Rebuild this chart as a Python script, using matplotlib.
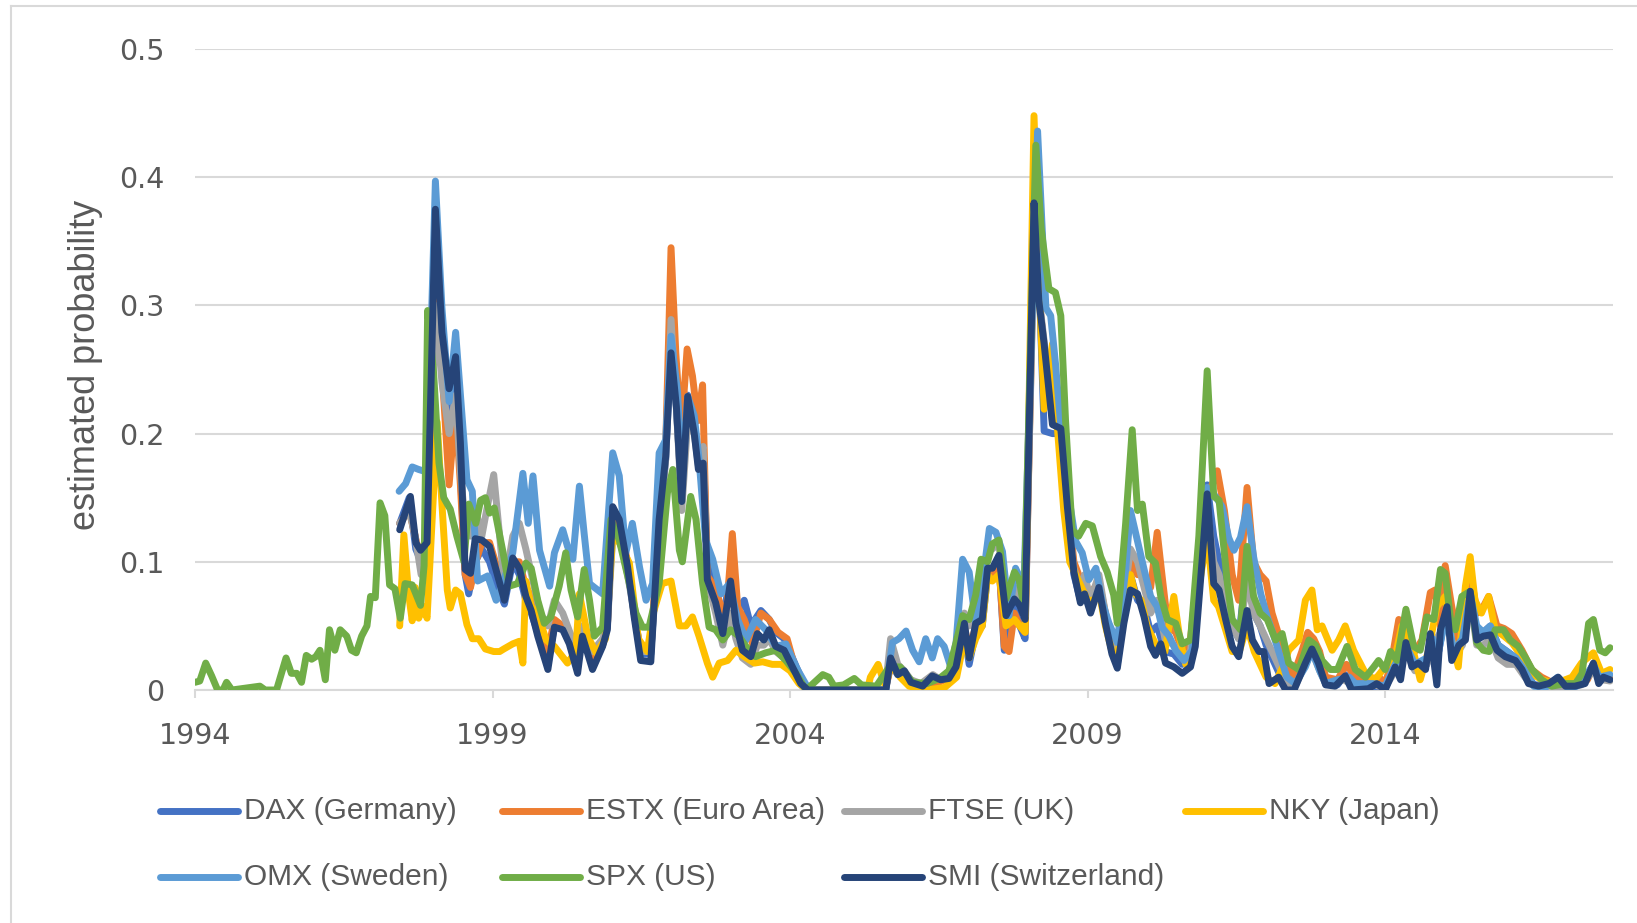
import matplotlib
matplotlib.use("Agg")
import matplotlib.pyplot as plt
from matplotlib.lines import Line2D

# (year, probability) vertices
dax = [(1997.44, .13), (1997.6, .15), (1997.71, .11), (1997.8, .10), (1997.9, .11), (1998.04, .35),
       (1998.15, .26), (1998.27, .20), (1998.38, .24), (1998.46, .17), (1998.54, .09), (1998.6, .075),
       (1998.71, .10), (1998.82, .11), (1998.95, .10), (1999.08, .08), (1999.2, .067), (1999.34, .10),
       (1999.45, .09), (1999.56, .07), (1999.65, .06), (1999.76, .045), (1999.93, .02), (2000.04, .05),
       (2000.18, .048), (2000.29, .04), (2000.43, .018), (2000.51, .045), (2000.68, .02), (2000.85, .035),
       (2000.93, .05), (2001.02, .14), (2001.13, .13), (2001.27, .095), (2001.38, .06), (2001.49, .028),
       (2001.66, .028), (2001.8, .13), (2001.91, .18), (2002.0, .27), (2002.09, .22), (2002.18, .15),
       (2002.28, .23), (2002.39, .205), (2002.46, .18), (2002.54, .19), (2002.61, .10), (2002.75, .08),
       (2002.87, .055), (2003.0, .09), (2003.09, .06), (2003.23, .07), (2003.34, .05), (2003.51, .062),
       (2003.65, .055), (2003.76, .045), (2003.9, .04), (2004.04, .025), (2004.2, .008), (2004.32, 0),
       (2005.6, 0), (2005.69, .02), (2005.81, .012), (2005.92, .013), (2006.03, .005), (2006.23, .003),
       (2006.4, .01), (2006.55, .008), (2006.67, .009), (2006.79, .015), (2006.93, .045), (2007.01, .02),
       (2007.12, .045), (2007.23, .05), (2007.32, .09), (2007.4, .09), (2007.51, .10), (2007.6, .031),
       (2007.7, .05), (2007.77, .065), (2007.86, .05), (2007.95, .04), (2008.12, .42), (2008.2, .30),
       (2008.27, .202), (2008.41, .20), (2008.55, .20), (2008.66, .14), (2008.77, .09), (2008.88, .07),
       (2008.95, .075), (2009.05, .065), (2009.19, .08), (2009.3, .055), (2009.41, .03), (2009.5, .02),
       (2009.61, .06), (2009.72, .09), (2009.84, .07), (2009.95, .065), (2010.06, .045), (2010.17, .05),
       (2010.3, .03), (2010.45, .028), (2010.59, .02), (2010.73, .025), (2010.87, .09), (2011.01, .16),
       (2011.12, .12), (2011.21, .10), (2011.32, .07), (2011.43, .05), (2011.54, .04), (2011.68, .10),
       (2011.79, .06), (2011.9, .05), (2012.0, .035), (2012.15, .02), (2012.3, .005), (2012.47, .003),
       (2012.66, .025), (2012.77, .035), (2012.9, .02), (2013.0, .005), (2013.2, .004), (2013.33, .012),
       (2013.5, .002), (2013.8, .003), (2014.0, .001), (2014.17, .02), (2014.35, .035), (2014.5, .02),
       (2014.7, .02), (2014.8, .04), (2014.9, .03), (2015.04, .065), (2015.15, .03), (2015.3, .04),
       (2015.43, .075), (2015.54, .045), (2015.65, .045), (2015.77, .05), (2015.9, .035), (2016.05, .03),
       (2016.2, .025), (2016.35, .015), (2016.5, .004), (2016.75, .004), (2016.95, .008), (2017.1, .002),
       (2017.3, .005), (2017.5, .02), (2017.62, .008), (2017.78, .01)]

estx = [(1997.44, .13), (1997.6, .14), (1997.75, .11), (1997.9, .11), (1998.04, .33), (1998.15, .25),
        (1998.27, .16), (1998.38, .22), (1998.46, .16), (1998.54, .09), (1998.63, .08), (1998.72, .10),
        (1998.82, .115), (1998.95, .115), (1999.08, .095), (1999.2, .08), (1999.34, .10), (1999.45, .10),
        (1999.56, .08), (1999.7, .07), (1999.8, .05), (1999.93, .03), (2000.04, .055), (2000.18, .05),
        (2000.3, .04), (2000.43, .02), (2000.51, .045), (2000.68, .025), (2000.85, .035), (2000.93, .05),
        (2001.02, .135), (2001.13, .13), (2001.27, .10), (2001.38, .06), (2001.49, .03), (2001.66, .03),
        (2001.8, .14), (2001.91, .19), (2002.0, .345), (2002.08, .263), (2002.17, .20), (2002.27, .266),
        (2002.36, .245), (2002.45, .21), (2002.53, .238), (2002.61, .089), (2002.73, .081), (2002.84, .065),
        (2002.93, .06), (2003.03, .122), (2003.12, .065), (2003.23, .055), (2003.37, .036), (2003.51, .06),
        (2003.65, .055), (2003.8, .045), (2003.95, .04), (2004.1, .015), (2004.3, 0), (2005.6, 0),
        (2005.7, .02), (2005.85, .012), (2006.0, .006), (2006.3, .004), (2006.5, .006), (2006.7, .01),
        (2006.8, .02), (2006.93, .05), (2007.01, .03), (2007.12, .05), (2007.23, .06), (2007.32, .09),
        (2007.4, .09), (2007.51, .10), (2007.6, .034), (2007.68, .03), (2007.77, .06), (2007.86, .05),
        (2007.95, .045), (2008.12, .40), (2008.2, .30), (2008.3, .25), (2008.45, .22), (2008.55, .20),
        (2008.66, .15), (2008.77, .10), (2008.85, .09), (2008.95, .08), (2009.05, .075), (2009.19, .085),
        (2009.3, .06), (2009.41, .035), (2009.5, .03), (2009.61, .07), (2009.72, .10), (2009.84, .09),
        (2009.95, .09), (2010.06, .08), (2010.17, .123), (2010.25, .09), (2010.35, .05), (2010.48, .045),
        (2010.6, .03), (2010.73, .04), (2010.87, .10), (2011.01, .15), (2011.18, .171), (2011.3, .14),
        (2011.43, .09), (2011.54, .07), (2011.68, .158), (2011.79, .10), (2011.9, .09), (2012.0, .085),
        (2012.1, .06), (2012.2, .045), (2012.3, .025), (2012.45, .01), (2012.6, .03), (2012.7, .045),
        (2012.8, .04), (2012.9, .03), (2013.0, .01), (2013.2, .008), (2013.35, .02), (2013.5, .01),
        (2013.7, .008), (2013.9, .01), (2014.0, .005), (2014.1, .02), (2014.23, .055), (2014.35, .035),
        (2014.5, .03), (2014.62, .039), (2014.76, .076), (2014.84, .078), (2014.93, .05), (2015.01, .097),
        (2015.12, .065), (2015.23, .04), (2015.35, .065), (2015.43, .091), (2015.55, .06), (2015.65, .065),
        (2015.74, .073), (2015.88, .05), (2016.0, .048), (2016.13, .044), (2016.3, .031), (2016.46, .016),
        (2016.63, .01), (2016.8, .006), (2017.0, .004), (2017.2, .006), (2017.4, .008), (2017.5, .018),
        (2017.64, .013), (2017.78, .01)]

ftse = [(1997.44, .13), (1997.6, .14), (1997.7, .12), (1997.8, .09), (1997.9, .10), (1998.04, .30),
        (1998.15, .24), (1998.27, .20), (1998.38, .23), (1998.46, .17), (1998.54, .13), (1998.63, .12),
        (1998.72, .14), (1998.82, .12), (1998.9, .14), (1999.02, .168), (1999.12, .12), (1999.2, .08),
        (1999.34, .12), (1999.45, .13), (1999.56, .11), (1999.68, .085), (1999.8, .06), (1999.93, .05),
        (2000.04, .07), (2000.18, .06), (2000.3, .045), (2000.43, .03), (2000.51, .05), (2000.68, .03),
        (2000.85, .04), (2000.93, .05), (2001.02, .12), (2001.13, .12), (2001.27, .09), (2001.38, .06),
        (2001.49, .03), (2001.66, .03), (2001.8, .12), (2001.91, .18), (2002.0, .289), (2002.09, .22),
        (2002.18, .14), (2002.28, .21), (2002.39, .20), (2002.46, .175), (2002.54, .19), (2002.61, .085),
        (2002.75, .06), (2002.87, .035), (2003.0, .06), (2003.09, .04), (2003.2, .025), (2003.34, .02),
        (2003.45, .035), (2003.56, .035), (2003.65, .04), (2003.76, .03), (2003.9, .025), (2004.04, .015),
        (2004.2, .003), (2004.3, 0), (2005.6, 0), (2005.69, .04), (2005.81, .02), (2005.92, .015),
        (2006.03, .008), (2006.2, .005), (2006.4, .012), (2006.53, .008), (2006.67, .01), (2006.79, .02),
        (2006.93, .06), (2007.01, .05), (2007.12, .055), (2007.23, .07), (2007.32, .11), (2007.4, .11),
        (2007.51, .115), (2007.63, .06), (2007.77, .08), (2007.86, .07), (2007.95, .06), (2008.12, .38),
        (2008.2, .30), (2008.3, .26), (2008.41, .21), (2008.55, .20), (2008.66, .14), (2008.77, .095),
        (2008.88, .08), (2008.95, .09), (2009.05, .07), (2009.19, .09), (2009.3, .06), (2009.41, .035),
        (2009.5, .03), (2009.61, .07), (2009.72, .11), (2009.84, .10), (2009.95, .08), (2010.06, .06),
        (2010.17, .07), (2010.3, .04), (2010.45, .035), (2010.6, .025), (2010.73, .03), (2010.87, .09),
        (2011.01, .14), (2011.12, .10), (2011.21, .09), (2011.32, .065), (2011.43, .05), (2011.54, .04),
        (2011.68, .085), (2011.79, .06), (2011.9, .05), (2012.0, .04), (2012.2, .02), (2012.35, .005),
        (2012.5, .004), (2012.66, .02), (2012.77, .03), (2012.9, .015), (2013.0, .005), (2013.3, .008),
        (2013.5, .003), (2013.8, .004), (2014.0, .002), (2014.17, .015), (2014.35, .03), (2014.5, .015),
        (2014.7, .02), (2014.8, .035), (2014.93, .045), (2015.04, .06), (2015.15, .025), (2015.3, .035),
        (2015.43, .07), (2015.54, .035), (2015.65, .035), (2015.77, .04), (2015.9, .025), (2016.05, .02),
        (2016.2, .02), (2016.35, .01), (2016.5, .003), (2016.75, .003), (2017.0, .002), (2017.3, .004),
        (2017.5, .015), (2017.65, .008), (2017.78, .007)]

nky = [(1997.44, .05), (1997.51, .121), (1997.59, .075), (1997.65, .054), (1997.7, .08), (1997.76, .056),
       (1997.83, .065), (1997.9, .056), (1998.07, .209), (1998.15, .145), (1998.24, .078), (1998.29, .064),
       (1998.38, .078), (1998.46, .075), (1998.57, .051), (1998.66, .04), (1998.77, .04), (1998.88, .032),
       (1999.02, .03), (1999.12, .03), (1999.19, .032), (1999.34, .036), (1999.45, .038), (1999.51, .021),
       (1999.56, .085), (1999.65, .065), (1999.76, .06), (1999.9, .039), (2000.04, .034), (2000.26, .021),
       (2000.4, .03), (2000.46, .075), (2000.6, .042), (2000.74, .029), (2000.9, .04), (2001.02, .12),
       (2001.13, .115), (2001.3, .099), (2001.45, .04), (2001.6, .03), (2001.7, .06), (2001.85, .083),
       (2002.0, .085), (2002.14, .05), (2002.25, .05), (2002.36, .057), (2002.47, .042), (2002.61, .021),
       (2002.7, .01), (2002.81, .021), (2002.95, .023), (2003.09, .031), (2003.23, .026), (2003.4, .021),
       (2003.54, .022), (2003.7, .02), (2003.85, .02), (2004.0, .015), (2004.15, .005), (2004.3, 0),
       (2005.3, 0), (2005.35, .01), (2005.48, .02), (2005.6, .003), (2005.7, .02), (2005.85, .01),
       (2006.0, .003), (2006.3, 0), (2006.6, .002), (2006.8, .01), (2006.93, .04), (2007.01, .025),
       (2007.12, .04), (2007.23, .05), (2007.32, .09), (2007.4, .085), (2007.51, .09), (2007.63, .05),
       (2007.77, .055), (2007.86, .05), (2007.95, .045), (2008.10, .448), (2008.2, .30), (2008.27, .219),
       (2008.41, .27), (2008.5, .20), (2008.6, .14), (2008.7, .10), (2008.8, .09), (2008.9, .08),
       (2009.0, .07), (2009.1, .07), (2009.2, .075), (2009.3, .05), (2009.41, .03), (2009.5, .025),
       (2009.61, .06), (2009.72, .09), (2009.8, .075), (2009.9, .07), (2010.0, .05), (2010.1, .04),
       (2010.2, .03), (2010.3, .03), (2010.45, .073), (2010.55, .04), (2010.65, .02), (2010.75, .025),
       (2010.87, .08), (2011.01, .12), (2011.12, .07), (2011.2, .065), (2011.3, .05), (2011.43, .03),
       (2011.55, .03), (2011.68, .05), (2011.8, .03), (2011.9, .02), (2012.0, .01), (2012.15, .005),
       (2012.3, .02), (2012.38, .031), (2012.55, .039), (2012.66, .07), (2012.77, .078), (2012.86, .047),
       (2012.94, .05), (2013.11, .031), (2013.22, .039), (2013.33, .05), (2013.47, .031), (2013.67, .013),
       (2013.83, .008), (2014.0, .018), (2014.17, .026), (2014.28, .05), (2014.45, .035), (2014.59, .008),
       (2014.73, .031), (2014.87, .065), (2015.01, .073), (2015.12, .039), (2015.23, .018), (2015.35, .081),
       (2015.43, .104), (2015.51, .07), (2015.62, .06), (2015.74, .073), (2015.85, .047), (2016.0, .042),
       (2016.13, .037), (2016.3, .026), (2016.46, .013), (2016.63, .008), (2016.86, .005), (2017.14, .01),
       (2017.3, .021), (2017.5, .029), (2017.64, .013), (2017.78, .016)]

omx = [(1997.43, .155), (1997.54, .161), (1997.65, .174), (1997.76, .172), (1997.9, .17), (1998.04, .397),
       (1998.15, .298), (1998.27, .225), (1998.38, .279), (1998.49, .212), (1998.57, .164), (1998.66, .155),
       (1998.75, .085), (1998.92, .089), (1999.06, .07), (1999.17, .083), (1999.34, .107), (1999.51, .169),
       (1999.6, .13), (1999.68, .167), (1999.79, .109), (1999.96, .081), (2000.04, .107), (2000.18, .125),
       (2000.26, .112), (2000.35, .102), (2000.46, .159), (2000.54, .122), (2000.63, .083), (2000.85, .075),
       (2001.02, .185), (2001.13, .167), (2001.24, .107), (2001.35, .13), (2001.47, .096), (2001.58, .07),
       (2001.69, .083), (2001.8, .185), (2001.91, .195), (2002.0, .276), (2002.11, .232), (2002.19, .161),
       (2002.28, .229), (2002.39, .214), (2002.47, .18), (2002.58, .117), (2002.7, .102), (2002.84, .075),
       (2002.98, .083), (2003.12, .055), (2003.26, .039), (2003.42, .055), (2003.59, .047), (2003.76, .034),
       (2003.93, .036), (2004.1, .018), (2004.32, 0), (2005.61, 0), (2005.72, .037), (2005.83, .04),
       (2005.95, .046), (2006.06, .031), (2006.17, .022), (2006.28, .04), (2006.39, .025), (2006.48, .04),
       (2006.59, .034), (2006.7, .018), (2006.79, .037), (2006.9, .102), (2007.01, .092), (2007.12, .052),
       (2007.23, .083), (2007.35, .126), (2007.46, .123), (2007.57, .108), (2007.68, .058), (2007.79, .095),
       (2007.93, .08), (2008.16, .436), (2008.3, .298), (2008.38, .292), (2008.46, .255), (2008.57, .195),
       (2008.69, .149), (2008.8, .116), (2008.91, .107), (2009.02, .086), (2009.14, .095), (2009.25, .068),
       (2009.36, .052), (2009.5, .037), (2009.64, .094), (2009.72, .14), (2009.86, .112), (2009.95, .094),
       (2010.06, .073), (2010.17, .065), (2010.25, .049), (2010.37, .042), (2010.48, .031), (2010.62, .023),
       (2010.76, .031), (2010.87, .099), (2011.01, .158), (2011.15, .151), (2011.26, .143), (2011.37, .119),
       (2011.46, .109), (2011.57, .119), (2011.68, .143), (2011.79, .104), (2011.91, .075), (2012.02, .057),
       (2012.13, .042), (2012.24, .026), (2012.35, .01), (2012.49, .005), (2012.66, .018), (2012.77, .031),
       (2012.9, .015), (2013.0, .005), (2013.2, .008), (2013.4, .01), (2013.5, .005), (2013.8, .005),
       (2014.0, .003), (2014.17, .02), (2014.35, .035), (2014.5, .02), (2014.7, .025), (2014.8, .04),
       (2014.9, .03), (2015.04, .062), (2015.15, .03), (2015.3, .04), (2015.43, .075), (2015.54, .05),
       (2015.65, .045), (2015.77, .05), (2015.9, .035), (2016.05, .03), (2016.2, .025), (2016.35, .015),
       (2016.5, .003), (2016.7, .002), (2016.9, .01), (2017.1, 0), (2017.3, .005), (2017.5, .02),
       (2017.6, .01), (2017.78, .012)]

spx = [(1994.0, .006), (1994.08, .007), (1994.18, .021), (1994.28, .011), (1994.38, 0), (1994.47, 0),
       (1994.53, .006), (1994.62, 0), (1995.09, .003), (1995.18, 0), (1995.37, 0), (1995.53, .025),
       (1995.62, .013), (1995.71, .013), (1995.79, .006), (1995.87, .027), (1995.96, .024), (1996.03, .026),
       (1996.1, .031), (1996.19, .008), (1996.26, .047), (1996.35, .031), (1996.44, .047), (1996.55, .042),
       (1996.63, .031), (1996.71, .029), (1996.8, .042), (1996.89, .05), (1996.95, .073), (1997.03, .072),
       (1997.11, .146), (1997.19, .136), (1997.27, .082), (1997.36, .079), (1997.45, .056), (1997.53, .083),
       (1997.65, .082), (1997.79, .066), (1997.85, .097), (1997.91, .296), (1998.01, .247), (1998.1, .177),
       (1998.18, .15), (1998.29, .141), (1998.4, .12), (1998.52, .10), (1998.6, .145), (1998.72, .13),
       (1998.8, .148), (1998.88, .15), (1998.95, .138), (1999.03, .142), (1999.17, .109), (1999.28, .081),
       (1999.42, .083), (1999.56, .099), (1999.65, .095), (1999.76, .07), (1999.87, .052), (1999.98, .057),
       (2000.12, .081), (2000.23, .107), (2000.32, .078), (2000.43, .057), (2000.54, .094), (2000.63, .07),
       (2000.71, .042), (2000.85, .049), (2000.99, .133), (2001.13, .117), (2001.27, .089), (2001.41, .06),
       (2001.52, .049), (2001.63, .049), (2001.8, .083), (2001.94, .154), (2002.03, .172), (2002.14, .109),
       (2002.19, .10), (2002.33, .151), (2002.42, .133), (2002.53, .083), (2002.64, .049), (2002.75, .047),
       (2002.87, .039), (2003.0, .047), (2003.14, .042), (2003.26, .034), (2003.42, .026), (2003.59, .029),
       (2003.76, .031), (2003.93, .023), (2004.1, .013), (2004.27, 0), (2004.55, .012), (2004.65, .01),
       (2004.74, .003), (2004.9, .004), (2005.08, .009), (2005.2, .004), (2005.45, .003), (2005.67, .018),
       (2005.85, .018), (2006.06, .006), (2006.3, .005), (2006.51, .009), (2006.67, .015), (2006.79, .037),
       (2006.9, .058), (2007.01, .055), (2007.12, .074), (2007.21, .102), (2007.32, .10), (2007.4, .114),
       (2007.51, .117), (2007.63, .071), (2007.77, .092), (2007.85, .086), (2007.93, .065), (2008.13, .425),
       (2008.22, .36), (2008.35, .313), (2008.46, .31), (2008.55, .292), (2008.63, .21), (2008.74, .125),
       (2008.85, .12), (2008.97, .13), (2009.08, .128), (2009.22, .104), (2009.33, .092), (2009.44, .074),
       (2009.5, .052), (2009.64, .13), (2009.75, .203), (2009.84, .14), (2009.92, .145), (2010.03, .104),
       (2010.14, .099), (2010.23, .073), (2010.34, .055), (2010.48, .052), (2010.59, .036), (2010.73, .039),
       (2010.87, .12), (2011.01, .249), (2011.12, .151), (2011.21, .148), (2011.35, .083), (2011.43, .055),
       (2011.57, .047), (2011.68, .112), (2011.79, .073), (2011.9, .06), (2012.02, .055), (2012.16, .039),
       (2012.27, .044), (2012.38, .021), (2012.55, .016), (2012.72, .039), (2012.83, .035), (2012.94, .023),
       (2013.08, .016), (2013.2, .016), (2013.36, .034), (2013.5, .016), (2013.67, .01), (2013.81, .018),
       (2013.89, .023), (2014.0, .016), (2014.09, .03), (2014.2, .023), (2014.35, .063), (2014.48, .034),
       (2014.59, .031), (2014.7, .057), (2014.82, .055), (2014.93, .094), (2015.01, .091), (2015.1, .055),
       (2015.18, .047), (2015.29, .073), (2015.43, .077), (2015.54, .037), (2015.65, .031), (2015.75, .03),
       (2015.85, .047), (2015.99, .047), (2016.1, .039), (2016.24, .034), (2016.35, .026), (2016.47, .016),
       (2016.63, .008), (2016.8, .003), (2017.03, .005), (2017.2, .005), (2017.31, .013), (2017.42, .052),
       (2017.5, .055), (2017.61, .031), (2017.7, .029), (2017.78, .033)]

smi = [(1997.44, .125), (1997.62, .151), (1997.71, .115), (1997.79, .109), (1997.9, .115), (1998.04, .375),
       (1998.15, .279), (1998.27, .235), (1998.38, .26), (1998.46, .193), (1998.54, .094), (1998.63, .091),
       (1998.71, .118), (1998.82, .117), (1998.95, .112), (1999.08, .09), (1999.2, .07), (1999.34, .103),
       (1999.45, .095), (1999.56, .073), (1999.65, .062), (1999.76, .042), (1999.93, .016), (2000.04, .049),
       (2000.18, .047), (2000.29, .036), (2000.43, .013), (2000.51, .042), (2000.68, .016), (2000.85, .034),
       (2000.93, .047), (2001.02, .143), (2001.13, .133), (2001.27, .096), (2001.38, .057), (2001.49, .023),
       (2001.66, .022), (2001.8, .133), (2001.91, .182), (2002.0, .263), (2002.09, .221), (2002.18, .147),
       (2002.28, .229), (2002.39, .20), (2002.46, .172), (2002.54, .177), (2002.61, .086), (2002.75, .068),
       (2002.87, .044), (2003.0, .085), (2003.09, .052), (2003.2, .031), (2003.34, .026), (2003.45, .044),
       (2003.56, .039), (2003.65, .047), (2003.76, .034), (2003.9, .031), (2004.04, .018), (2004.18, .005),
       (2004.3, 0), (2005.61, 0), (2005.69, .025), (2005.81, .012), (2005.92, .015), (2006.03, .006),
       (2006.23, .003), (2006.39, .011), (2006.53, .008), (2006.67, .009), (2006.79, .018), (2006.93, .052),
       (2007.01, .025), (2007.12, .052), (2007.23, .055), (2007.32, .095), (2007.4, .095), (2007.51, .105),
       (2007.63, .058), (2007.77, .071), (2007.86, .066), (2007.95, .055), (2008.1, .38), (2008.18, .304),
       (2008.27, .27), (2008.41, .207), (2008.55, .204), (2008.66, .143), (2008.77, .092), (2008.88, .068),
       (2008.95, .075), (2009.05, .06), (2009.19, .08), (2009.3, .052), (2009.41, .028), (2009.5, .017),
       (2009.61, .052), (2009.72, .078), (2009.84, .075), (2009.95, .057), (2010.06, .034), (2010.14, .027),
       (2010.23, .036), (2010.31, .021), (2010.45, .018), (2010.59, .013), (2010.73, .018), (2010.81, .034),
       (2010.93, .104), (2011.01, .153), (2011.12, .083), (2011.21, .078), (2011.32, .055), (2011.43, .034),
       (2011.54, .026), (2011.68, .062), (2011.77, .039), (2011.88, .03), (2011.96, .03), (2012.05, .005),
       (2012.21, .01), (2012.33, 0), (2012.47, 0), (2012.66, .021), (2012.77, .032), (2012.88, .021),
       (2013.0, .004), (2013.16, .003), (2013.33, .011), (2013.44, 0), (2013.72, .001), (2013.86, .005),
       (2014.0, 0), (2014.17, .018), (2014.26, .008), (2014.35, .037), (2014.45, .018), (2014.56, .021),
       (2014.68, .016), (2014.76, .044), (2014.87, .004), (2014.93, .047), (2015.04, .065), (2015.12, .023),
       (2015.24, .035), (2015.35, .039), (2015.43, .077), (2015.54, .039), (2015.65, .042), (2015.77, .043),
       (2015.88, .031), (2016.02, .026), (2016.19, .023), (2016.3, .016), (2016.41, .005), (2016.58, .003),
       (2016.75, .005), (2016.91, .01), (2017.03, .003), (2017.19, .003), (2017.36, .005), (2017.5, .021),
       (2017.59, .005), (2017.67, .01), (2017.78, .008)]

series = [
    ("DAX (Germany)", dax, "#4472C4"),
    ("ESTX (Euro Area)", estx, "#ED7D31"),
    ("FTSE (UK)", ftse, "#A5A5A5"),
    ("NKY (Japan)", nky, "#FFC000"),
    ("OMX (Sweden)", omx, "#5B9BD5"),
    ("SPX (US)", spx, "#70AD47"),
    ("SMI (Switzerland)", smi, "#264478"),
]

W, H = 1637, 923
TXT = "#595959"
GRID = "#D9D9D9"
narrow = ["Liberation Sans", "DejaVu Sans"]

fig = plt.figure(figsize=(W / 100, H / 100), dpi=100)
fig.patch.set_facecolor("white")

# chart area border (left and top visible)
fig.add_artist(Line2D([11 / W, 11 / W], [0, 1 - 6 / H], color=GRID, lw=1.5))
fig.add_artist(Line2D([11 / W, 1], [1 - 6 / H, 1 - 6 / H], color=GRID, lw=1.5))

ax = fig.add_axes([195 / W, 1 - 690 / H, (1613 - 195) / W, (690 - 49) / H])

for i, (name, pts, col) in enumerate(series):
    xs = [p[0] for p in pts]
    ys = [p[1] for p in pts]
    ax.plot(xs, ys, color=col, lw=5, solid_joinstyle="round",
            solid_capstyle="round", zorder=3 + i)

ax.set_xlim(1994, 2017.83)
ax.set_ylim(0, 0.5)
ax.set_yticks([0, 0.1, 0.2, 0.3, 0.4, 0.5])
ax.set_yticklabels(["0", "0.1", "0.2", "0.3", "0.4", "0.5"])
ax.set_xticks([1994, 1999, 2004, 2009, 2014])
ax.set_xticklabels(["1994", "1999", "2004", "2009", "2014"])
ax.grid(axis="y", color=GRID, lw=1.5, zorder=0)
ax.set_axisbelow(True)
for s in ["top", "right", "left"]:
    ax.spines[s].set_visible(False)
ax.spines["bottom"].set_color(GRID)
ax.spines["bottom"].set_linewidth(1.5)
ax.tick_params(axis="y", length=0, pad=22, labelsize=20.5, labelcolor=TXT)
ax.tick_params(axis="x", length=6, width=1.5, color=GRID, pad=17,
               labelsize=20.5, labelcolor=TXT)

fig.text(86 / W, 1 - 365 / H, "estimated probability", rotation=90,
         ha="center", va="center", fontsize=26, color=TXT, family=narrow)

# legend laid out like the original: four fixed-width columns, two rows
rows_y = [811, 877]
cols_x = [160, 502, 844, 1185]
for k, (name, pts, col) in enumerate(series):
    r, c = (0, k) if k < 4 else (1, k - 4)
    y = 1 - rows_y[r] / H
    x0 = cols_x[c]
    fig.add_artist(Line2D([x0 / W, (x0 + 78) / W], [y, y], color=col, lw=5,
                          solid_capstyle="round"))
    fig.text((x0 + 84) / W, y, name, ha="left", va="center", fontsize=21.5,
             color=TXT, family=narrow)

fig.savefig("out.png", dpi=100)
